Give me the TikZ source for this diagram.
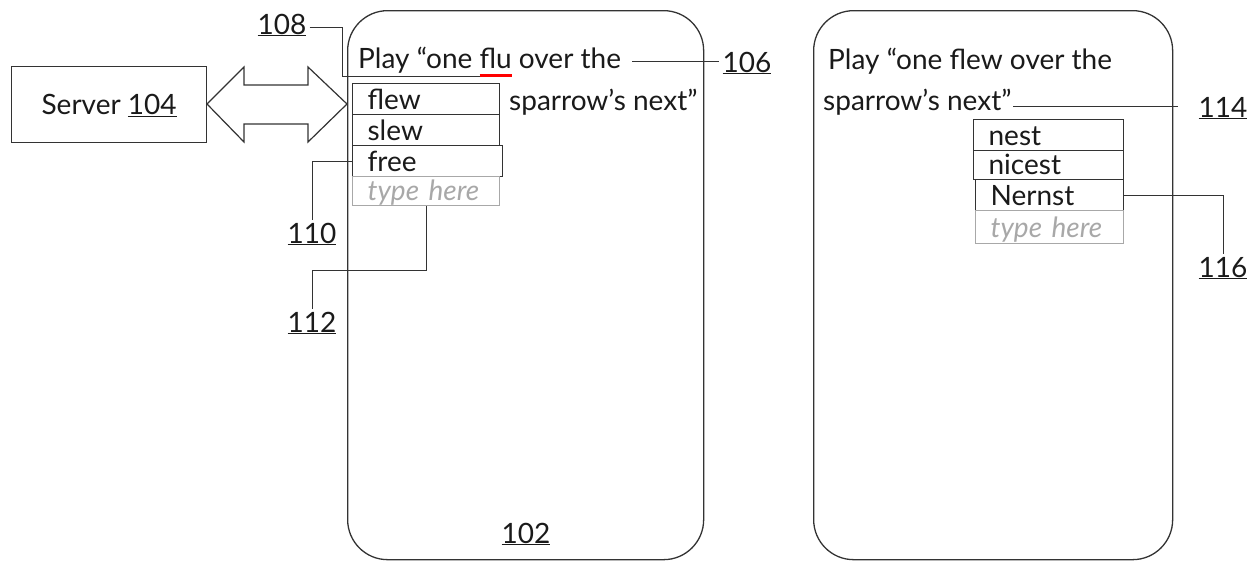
\documentclass[tikz,border=0pt]{standalone}
\usepackage{fontspec}
\setmainfont{Lato}
\usetikzlibrary{calc}
\definecolor{ln}{HTML}{333333}
\definecolor{tx}{HTML}{1A1A1A}
\definecolor{gr}{HTML}{A8A8A8}
\newcommand{\redul}[1]{\setbox0\hbox{#1}\rlap{\color{red}\rule[-8.5pt]{\wd0}{3pt}}\box0\relax}
\begin{document}
\begin{tikzpicture}[x=1pt,y=-1pt,
  font=\fontsize{28}{32}\selectfont, text=tx,
  lead/.style={draw=ln, line width=1pt},
  phone/.style={draw=ln, line width=1.3pt, rounded corners=40pt, rectangle, anchor=north west, inner sep=0},
  txt/.style={anchor=base west, inner sep=0},
  lbl/.style={anchor=base, inner sep=3pt},
  sug/.style={draw=ln, line width=1.2pt, anchor=north west, inner xsep=15pt, inner ysep=3pt,
              text height=23pt, text depth=2pt, align=left},
  typ/.style={sug, draw=gr, text=gr, font=\fontsize{28}{32}\selectfont\itshape}]
\useasboundingbox (0,0) rectangle (1249,560);

% server and double arrow
\node[draw=ln, line width=1.2pt, anchor=north west, minimum width=195pt, minimum height=76pt,
      text height=20pt, text depth=1pt] (server) at (11,66) {Server \underline{104}};
\draw[draw=ln, line width=1.2pt, line join=miter]
  (207,104) -- (244,67) -- (244,85) -- (308,85) -- (308,67) -- (347,104)
  -- (308,142) -- (308,124) -- (244,124) -- (244,142) -- cycle;

% phones
\node[phone, minimum width=356pt, minimum height=549pt] (phone1) at (347,10) {};
\node[phone, minimum width=359pt, minimum height=549pt] (phone2) at (813,10) {};

% phone 1 texts
\node[txt] (p1a) at (358,68) {Play “one \redul{flu} over the};
\node[txt] (p1b) at (509,110) {sparrow’s next”};
\node[sug, text width=117pt] (flew) at (352,83) {flew};
\node[sug, text width=117pt] (slew) at (352,114) {slew};
\node[sug, text width=120pt] (free) at (352,145) {free};
\node[typ, text width=117pt, text height=21pt, text depth=2pt] (th1) at (352,176) {type here};
\node[lbl] (l102) at (526,543) {\underline{102}};

% phone 2 texts
\node[txt] (p2a) at (828,69) {Play “one flew over the};
\node[txt] (p2b) at (823,110) {sparrow’s next”};
\node[sug, text width=120pt] (nest) at (973,119) {nest};
\node[sug, text width=120pt, text height=21pt] (nicest) at (973,150) {nicest};
\node[sug, text width=118pt] (nernst) at (975,179) {Nernst};
\node[typ, text width=118pt, text height=24pt, text depth=3pt] (th2) at (975,210) {type here};

% reference labels
\node[lbl] (l108) at (282,34) {\underline{108}};
\node[lbl] (l106) at (747,72) {\underline{106}};
\node[lbl] (l110) at (312,243) {\underline{110}};
\node[lbl] (l112) at (312,332) {\underline{112}};
\node[lbl] (l114) at (1223,117) {\underline{114}};
\node[lbl] (l116) at (1223,277) {\underline{116}};

\coordinate (c108) at (480,76);
\coordinate (c106) at (632,61);
\coordinate (c114) at (1013,106);

% leaders
\draw[lead] (l108.east |- 0,27) -| (342,76) -- (c108);
\draw[lead] (c106) -- (c106 -| l106.west);
\draw[lead] (free.west) -| (l110.north);
\draw[lead] (th1.south) -- ++(0,64) -| (l112.north);
\draw[lead] (c114) -- ([xshift=-17pt]c114 -| l114.west);
\draw[lead] (nernst.east) -| (l116.north);
\end{tikzpicture}
\end{document}
